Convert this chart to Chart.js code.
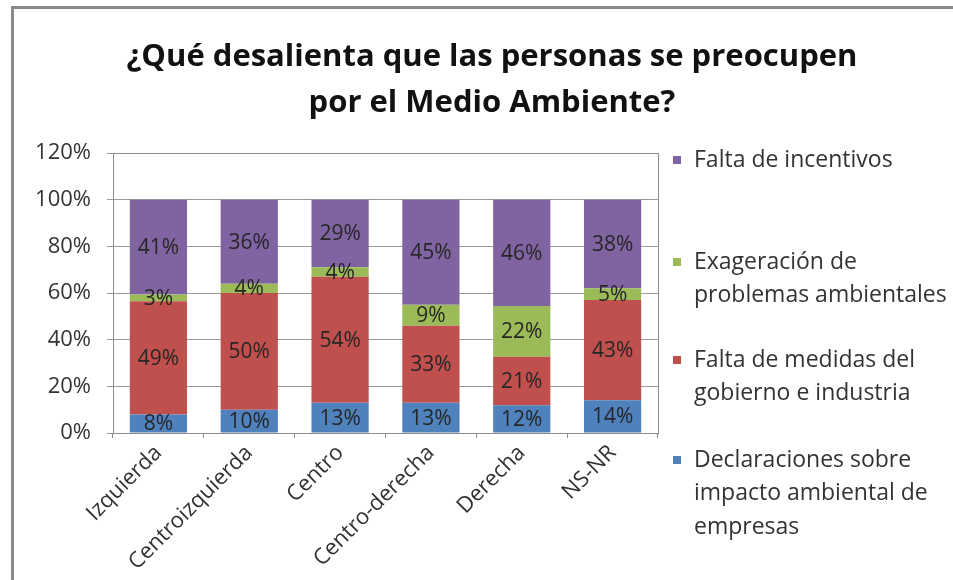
<!DOCTYPE html>
<html>
<head>
<meta charset="utf-8">
<script src="https://cdn.jsdelivr.net/npm/chart.js@4/dist/chart.umd.min.js"></script>
<style>
  html, body { margin: 0; padding: 0; background: #ffffff; }
  #wrap { width: 953px; height: 580px; position: relative; }
</style>
</head>
<body>
<div id="wrap"><canvas id="c" width="953" height="580"></canvas></div>
<script>
// ---- data ----
const titleLines = ['¿Qué desalienta que las personas se preocupen', 'por el Medio Ambiente?'];
const categories = ['Izquierda', 'Centroizquierda', 'Centro', 'Centro-derecha', 'Derecha', 'NS-NR'];
const declaraciones = [8, 10, 13, 13, 12, 14];
const faltaMedidas = [49, 50, 54, 33, 21, 43];
const exageracion = [3, 4, 4, 9, 22, 5];
const faltaIncentivos = [41, 36, 29, 45, 46, 38];
const seriesNames = [
  ['Declaraciones sobre', 'impacto ambiental de', 'empresas'],
  ['Falta de medidas del', 'gobierno e industria'],
  ['Exageración de', 'problemas ambientales'],
  ['Falta de incentivos']
];
const yTicks = [0, 20, 40, 60, 80, 100, 120];

const colors = ['#4F81BD', '#C0504D', '#9BBB59', '#8064A2'];
const FONT = '"Open Sans", "Liberation Sans", sans-serif';

// 100% stacked: each column is shown as shares of its own total
const rawSeries = [declaraciones, faltaMedidas, exageracion, faltaIncentivos];
const totals = categories.map((_, j) => rawSeries.reduce((s, d) => s + d[j], 0));

const framePlugin = {
  id: 'frame',
  beforeDraw(chart) {
    const ctx = chart.ctx;
    ctx.save();
    ctx.fillStyle = '#ffffff';
    ctx.fillRect(0, 0, chart.width, chart.height);
    ctx.strokeStyle = '#8a8a8a';
    ctx.lineWidth = 3;
    ctx.beginPath();
    ctx.moveTo(12.5, chart.height);
    ctx.lineTo(12.5, 7.5);
    ctx.lineTo(chart.width, 7.5);
    ctx.stroke();
    ctx.restore();
  }
};

const plotBorder = {
  id: 'plotBorder',
  beforeDatasetsDraw(chart) {
    const {ctx, chartArea: a} = chart;
    ctx.save();
    ctx.strokeStyle = '#8c8c8c';
    ctx.lineWidth = 1;
    ctx.strokeRect(a.left + 0.5, a.top + 0.5, a.right - a.left, a.bottom - a.top);
    ctx.restore();
  }
};

const titlePlugin = {
  id: 'titleText',
  afterDraw(chart) {
    const ctx = chart.ctx;
    ctx.save();
    ctx.fillStyle = '#111111';
    ctx.font = 'bold 31px ' + FONT;
    ctx.textAlign = 'center';
    ctx.textBaseline = 'middle';
    ctx.fillText(titleLines[0], 492, 57);
    ctx.fillText(titleLines[1], 492, 103);
    ctx.restore();
  }
};

const dataLabels = {
  id: 'dataLabels',
  afterDatasetsDraw(chart) {
    const ctx = chart.ctx;
    ctx.save();
    ctx.font = '21px ' + FONT;
    ctx.fillStyle = '#262626';
    ctx.textAlign = 'center';
    ctx.textBaseline = 'middle';
    chart.data.datasets.forEach((ds, i) => {
      const meta = chart.getDatasetMeta(i);
      meta.data.forEach((el, j) => {
        const y = (el.y + el.base) / 2;
        ctx.fillText(rawSeries[i][j] + '%', el.x, y + 1);
      });
    });
    ctx.restore();
  }
};

const legendPlugin = {
  id: 'customLegend',
  afterDraw(chart) {
    const ctx = chart.ctx;
    ctx.save();
    ctx.font = '23px ' + FONT;
    ctx.textBaseline = 'middle';
    ctx.textAlign = 'left';
    const starts = [460, 360, 262, 160];
    const lh = 33.5;
    for (let i = 3; i >= 0; i--) {
      const y0 = starts[i];
      ctx.fillStyle = colors[i];
      ctx.fillRect(673, y0 - 4, 8, 8);
      ctx.fillStyle = '#333333';
      seriesNames[i].forEach((line, k) => {
        ctx.fillText(line, 694, y0 + k * lh);
      });
    }
    ctx.restore();
  }
};

const datasets = rawSeries.map((d, i) => ({
  label: seriesNames[i].join(' '),
  data: d.map((v, j) => v / totals[j] * 100),
  backgroundColor: colors[i],
  borderWidth: 0,
  barPercentage: 0.63,
  categoryPercentage: 1.0
}));

new Chart(document.getElementById('c'), {
  type: 'bar',
  data: { labels: categories, datasets },
  options: {
    responsive: false,
    animation: false,
    layout: { padding: { left: 13, right: 295, top: 153, bottom: 0 } },
    plugins: {
      legend: { display: false },
      title: { display: false },
      tooltip: { enabled: false }
    },
    scales: {
      x: {
        stacked: true,
        afterFit(scale) { scale.height = 147; },
        grid: { drawOnChartArea: false, drawTicks: true, tickLength: 5, color: '#8c8c8c', offset: true },
        border: { color: '#8c8c8c' },
        ticks: {
          color: '#333333',
          font: { family: FONT, size: 22 },
          maxRotation: 45,
          minRotation: 45,
          padding: 2,
          autoSkip: false
        }
      },
      y: {
        stacked: true,
        min: 0,
        max: 120,
        afterFit(scale) { scale.width = 100; },
        afterBuildTicks(scale) { scale.ticks = yTicks.map(v => ({ value: v })); },
        grid: { color: '#9a9a9a', tickLength: 6 },
        border: { color: '#8c8c8c' },
        ticks: {
          color: '#333333',
          font: { family: FONT, size: 22 },
          padding: 16,
          callback: v => v + '%'
        }
      }
    }
  },
  plugins: [framePlugin, plotBorder, titlePlugin, dataLabels, legendPlugin]
});
</script>
</body>
</html>
